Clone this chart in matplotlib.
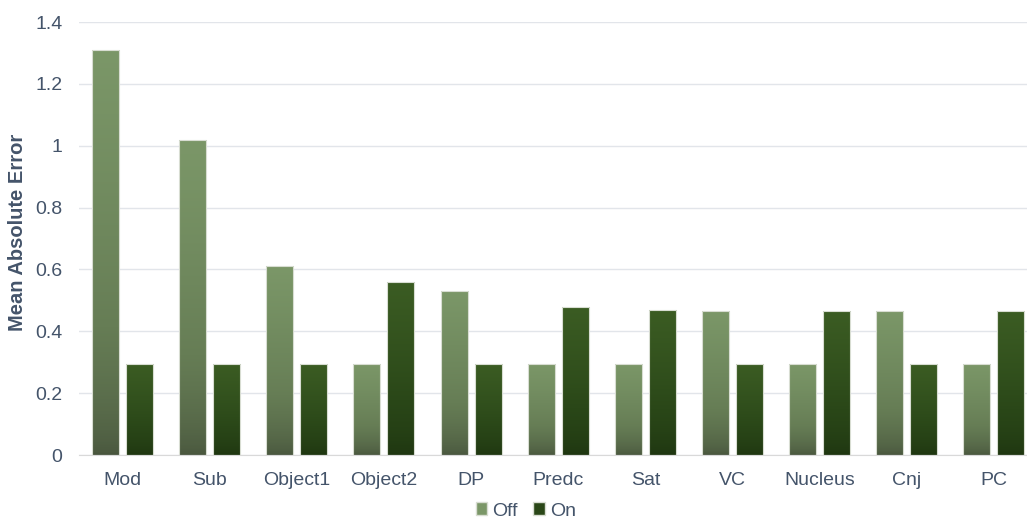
import numpy as np
import matplotlib.pyplot as plt
from matplotlib.colors import LinearSegmentedColormap
from matplotlib.patches import Patch

plt.rcParams["font.family"] = ["Liberation Sans", "DejaVu Sans"]

# data
categories = ["Mod", "Sub", "Object1", "Object2", "DP", "Predc", "Sat", "VC", "Nucleus", "Cnj", "PC"]
off_vals = [1.31, 1.02, 0.61, 0.295, 0.53, 0.295, 0.295, 0.465, 0.295, 0.465, 0.295]
on_vals = [0.295, 0.295, 0.295, 0.56, 0.295, 0.48, 0.47, 0.295, 0.465, 0.295, 0.465]
yticks = [0, 0.2, 0.4, 0.6, 0.8, 1.0, 1.2, 1.4]
ytick_labels = ["0", "0.2", "0.4", "0.6", "0.8", "1", "1.2", "1.4"]

text_col = "#44546a"
grid_col = "#e2e5ea"

off_cmap = LinearSegmentedColormap.from_list("off", ["#48553d", "#667d55", "#7b9768"])
on_cmap = LinearSegmentedColormap.from_list("on", ["#1e3510", "#2a4718", "#3b5c23"])

fig = plt.figure(figsize=(10.27, 5.2), dpi=100)
ax = fig.add_axes([79 / 1027, 65 / 520, 948 / 1027, 433 / 520])

x = np.arange(len(categories))
w = 0.31
off_x = 0.195

grad = np.linspace(0, 1, 256).reshape(-1, 1)
grad = grad ** 0.6


def gradient_bar(xc, h, cmap):
    bar = ax.bar(xc, h, width=w, facecolor="none", edgecolor="#d8ddd2",
                 linewidth=0.8, zorder=3)[0]
    im = ax.imshow(grad, extent=[xc - w / 2, xc + w / 2, 0, h], origin="lower",
                   aspect="auto", cmap=cmap, zorder=2, interpolation="nearest")
    im.set_clip_path(bar)


for i in range(len(categories)):
    gradient_bar(x[i] - off_x, off_vals[i], off_cmap)
    gradient_bar(x[i] + off_x, on_vals[i], on_cmap)

ax.set_xlim(-0.5, 10.38)
ax.set_ylim(0, 1.4)
ax.set_yticks(yticks)
ax.set_yticklabels(ytick_labels)
ax.set_xticks(x)
ax.set_xticklabels(categories)
ax.tick_params(axis="both", length=0, labelsize=14, labelcolor=text_col)
ax.tick_params(axis="y", pad=12)
ax.tick_params(axis="x", pad=12)
ax.grid(axis="y", color=grid_col, linewidth=1, zorder=0)
ax.set_axisbelow(True)
for s in ["top", "right", "left"]:
    ax.spines[s].set_visible(False)
ax.spines["bottom"].set_color("#d9d9d9")
ax.spines["bottom"].set_zorder(4)

ax.set_ylabel("Mean Absolute Error", fontsize=14.5, fontweight="bold",
              color=text_col)
ax.yaxis.set_label_coords(-52 / 948, 0.513)

handles = [Patch(facecolor="#7b9768", edgecolor="#d8ddd2", label="Off"),
           Patch(facecolor="#2a4718", edgecolor="#d8ddd2", label="On")]
fig.legend(handles=handles, loc="center", bbox_to_anchor=(0.512, 9 / 520),
           ncol=2, frameon=False, fontsize=14, labelcolor=text_col,
           handlelength=0.6, handleheight=0.6, handletextpad=0.25, columnspacing=0.8)

fig.savefig("out.png", dpi=100)
